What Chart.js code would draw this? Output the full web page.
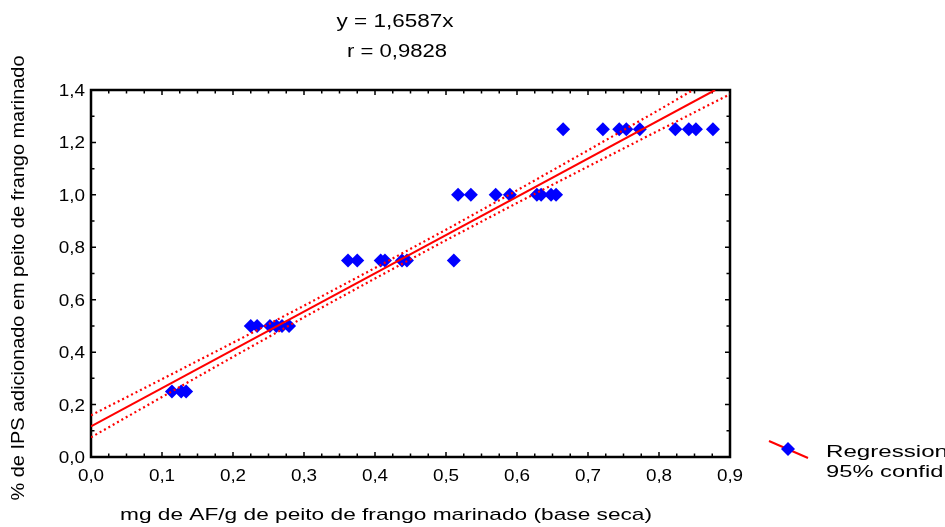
<!DOCTYPE html>
<html>
<head>
<meta charset="utf-8">
<script src="https://cdn.jsdelivr.net/npm/chart.js@4"></script>
<style>
  body { margin: 0; background: #fff; }
</style>
</head>
<body>
<canvas id="grafico" width="945" height="527"></canvas>
<script>
// datos
const ticksX = [0, 0.1, 0.2, 0.3, 0.4, 0.5, 0.6, 0.7, 0.8, 0.9];
const ticksY = [0, 0.2, 0.4, 0.6, 0.8, 1.0, 1.2, 1.4];

// puntos medidos (mg AF/g) y el % de IPS que corresponde
const puntosX = [
  0.114, 0.127, 0.134,
  0.225, 0.234, 0.252, 0.261, 0.269, 0.279,
  0.362, 0.375, 0.408, 0.414, 0.438, 0.445, 0.511,
  0.517, 0.535, 0.570, 0.590, 0.628, 0.634, 0.648, 0.655,
  0.665, 0.721, 0.744, 0.754, 0.773, 0.823, 0.842, 0.852, 0.876,
];
const puntosY = [
  0.25, 0.25, 0.25,
  0.5, 0.5, 0.5, 0.5, 0.5, 0.5,
  0.75, 0.75, 0.75, 0.75, 0.75, 0.75, 0.75,
  1.0, 1.0, 1.0, 1.0, 1.0, 1.0, 1.0, 1.0,
  1.25, 1.25, 1.25, 1.25, 1.25, 1.25, 1.25, 1.25, 1.25,
];

// recta de regresion (extremos leidos)
const regX = [0, 0.879];
const regY = [0.117, 1.4];

// bandas del 95% (leidas cada 0,1)
const superiorX = [0, 0.1, 0.2, 0.3, 0.4, 0.5, 0.6, 0.7, 0.8, 0.848];
const superiorY = [0.159, 0.297, 0.436, 0.577, 0.721, 0.867, 1.017, 1.170, 1.324, 1.4];
const inferiorX = [0, 0.1, 0.2, 0.3, 0.4, 0.5, 0.6, 0.7, 0.8, 0.9];
const inferiorY = [0.075, 0.229, 0.382, 0.533, 0.681, 0.827, 0.969, 1.108, 1.246, 1.384];

const titulo1 = "y = 1,6587x";
const titulo2 = "r = 0,9828";
const tituloX = "mg de AF/g de peito de frango marinado (base seca)";
const tituloY = "% de IPS adicionado em peito de frango marinado";
const leyenda = ["Regression", "95% confid."];

const FUENTE = '"Liberation Sans", Arial, sans-serif';

function pares(xs, ys) {
  return xs.map((x, i) => ({ x: x, y: ys[i] }));
}

function coma(v) {
  return v.toFixed(1).replace(".", ",");
}

// escribe texto estirado en horizontal (la imagen original esta estirada)
function texto(ctx, str, x, y, size, ancho, align) {
  ctx.save();
  ctx.font = `${size}px ${FUENTE}`;
  const w = ctx.measureText(str).width;
  const sx = ancho ? ancho / w : 1.18;
  ctx.translate(x, y);
  ctx.scale(sx, 1);
  ctx.textAlign = align || "center";
  ctx.textBaseline = "alphabetic";
  ctx.fillStyle = "#000";
  ctx.fillText(str, 0, 0);
  ctx.restore();
}

// SECCION plugin: marco, ticks hacia adentro, etiquetas, titulos y leyenda
const decoracion = {
  id: "decoracion",
  beforeDatasetsDraw(chart) {
    const ctx = chart.ctx;
    const a = chart.chartArea;
    const sx = chart.scales.x;
    const sy = chart.scales.y;

    ctx.save();
    ctx.strokeStyle = "#000";
    ctx.lineWidth = 1.5;
    ctx.beginPath();
    // ticks menores y mayores en x (arriba y abajo)
    for (let i = 0; i <= 36; i++) {
      const px = sx.getPixelForValue(i * 0.025);
      const largo = i % 4 === 0 ? 5 : 3.5;
      ctx.moveTo(px, a.bottom);
      ctx.lineTo(px, a.bottom - largo);
      ctx.moveTo(px, a.top);
      ctx.lineTo(px, a.top + largo);
    }
    // ticks en y (izquierda y derecha)
    for (let i = 0; i <= 14; i++) {
      const py = sy.getPixelForValue(i * 0.1);
      const largo = i % 2 === 0 ? 5 : 3.5;
      ctx.moveTo(a.left, py);
      ctx.lineTo(a.left + largo, py);
      ctx.moveTo(a.right, py);
      ctx.lineTo(a.right - largo, py);
    }
    ctx.stroke();

    ctx.lineWidth = 2.5;
    ctx.strokeRect(a.left, a.top, a.right - a.left, a.bottom - a.top);
    ctx.restore();

    // etiquetas de los ejes
    ticksX.forEach((v) => {
      texto(ctx, coma(v), sx.getPixelForValue(v), 481, 16);
    });
    ticksY.forEach((v) => {
      texto(ctx, coma(v), 85, sy.getPixelForValue(v) + 6, 16, null, "right");
    });
  },
  afterDraw(chart) {
    const ctx = chart.ctx;

    texto(ctx, titulo1, 395, 27, 18, 117);
    texto(ctx, titulo2, 397, 57, 18, 100);
    texto(ctx, tituloX, 386, 520, 17, 532);

    // titulo del eje y, rotado
    ctx.save();
    ctx.translate(24, 278);
    ctx.rotate(-Math.PI / 2);
    texto(ctx, tituloY, 0, 0, 18, 445);
    ctx.restore();

    // leyenda a la derecha
    ctx.save();
    ctx.strokeStyle = "#ff0000";
    ctx.lineWidth = 2;
    ctx.beginPath();
    ctx.moveTo(769, 441);
    ctx.lineTo(808, 458);
    ctx.stroke();
    ctx.fillStyle = "#0000ff";
    ctx.beginPath();
    ctx.moveTo(788, 442);
    ctx.lineTo(795, 449);
    ctx.lineTo(788, 456);
    ctx.lineTo(781, 449);
    ctx.closePath();
    ctx.fill();
    ctx.restore();

    texto(ctx, leyenda[0], 826, 457, 17, 122, "left");
    texto(ctx, leyenda[1], 826, 477, 17, 124, "left");
  },
};

// SECCION del grafico
const canvas = document.getElementById("grafico");

new Chart(canvas, {
  type: "scatter",
  data: {
    datasets: [
      {
        label: "puntos",
        data: pares(puntosX, puntosY),
        backgroundColor: "#0000ff",
        borderWidth: 0,
        pointStyle: "rectRot",
        pointRadius: 7,
        order: 2,
      },
      {
        label: "regresion",
        data: pares(regX, regY),
        showLine: true,
        borderColor: "#ff0000",
        borderWidth: 2,
        pointRadius: 0,
        order: 1,
      },
      {
        label: "superior",
        data: pares(superiorX, superiorY),
        showLine: true,
        borderColor: "#ff0000",
        borderWidth: 2.2,
        borderDash: [2, 3],
        pointRadius: 0,
        order: 1,
      },
      {
        label: "inferior",
        data: pares(inferiorX, inferiorY),
        showLine: true,
        borderColor: "#ff0000",
        borderWidth: 2.2,
        borderDash: [2, 3],
        pointRadius: 0,
        order: 1,
      },
    ],
  },
  options: {
    responsive: false,
    animation: false,
    events: [],
    layout: {
      padding: { left: 91, right: 215, top: 90, bottom: 70 },
    },
    plugins: {
      legend: { display: false },
      tooltip: { enabled: false },
    },
    scales: {
      x: { type: "linear", min: 0, max: 0.9, display: false },
      y: { type: "linear", min: 0, max: 1.4, display: false },
    },
  },
  plugins: [decoracion],
});
</script>
</body>
</html>
